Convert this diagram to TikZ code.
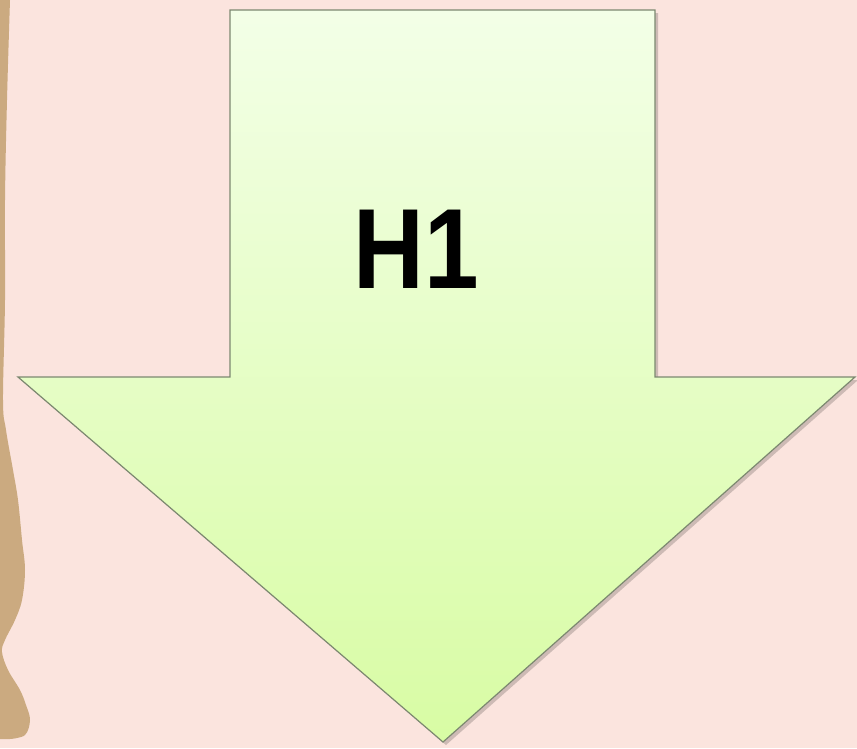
\documentclass[tikz,border=0pt]{standalone}
\usepackage{fontspec}
\setmainfont{Liberation Sans}
\usepackage{xcolor}
\usepackage{graphicx}
\usepackage{tikz}
\usetikzlibrary{positioning,calc}
\definecolor{hbg}{HTML}{FBE4DE}
\definecolor{hstrip}{HTML}{CBAA80}
\definecolor{htop}{HTML}{F3FFE7}
\definecolor{hbot}{HTML}{D8FCA4}
\definecolor{hedge}{HTML}{7C8870}

\begin{document}
\begin{tikzpicture}[x=1pt,y=-1pt,font=\bfseries]
  \tikzstyle{arrowbody}=[draw=hedge,line width=1.2pt,line join=miter,top color=htop,bottom color=hbot]
  \tikzstyle{arrowshadow}=[fill=black,opacity=0.18]
  \useasboundingbox (0,0) rectangle (857,748);
  \fill[hbg] (0,0) rectangle (857,748);
  % brown strip at the left edge
  \fill[hstrip] (-2,-2) -- (10,-2) -- plot[smooth,tension=0.6] coordinates {(10,0) (7,100) (5,200) (5,300) (3,400) (6,430) (13,470) (18,500) (22,540) (25,570) (22,600) (15,620) (5,640) (2,652) (8,670) (20,690) (26,705) (30,720) (25,735) (10,739)} -- (-2,739) -- cycle;
  % the arrow
  \coordinate (tip) at (443,742);
  \fill[arrowshadow] ($(230,10)+(3,3)$) -- ++(425,0) -- ++(0,367) -- ++(200,0) -- ($(tip)+(3,3)$) -- ++(-425,-365) -- ++(212,0) -- cycle;
  \draw[arrowbody] (230,10) -- (655,10) -- (655,377) -- (855,377) -- (tip) -- (18,377) -- (230,377) -- cycle;
  \node (h1) at (416,249) {\scalebox{0.86}[1]{\fontsize{114}{114}\selectfont H1}};
\end{tikzpicture}
\end{document}
